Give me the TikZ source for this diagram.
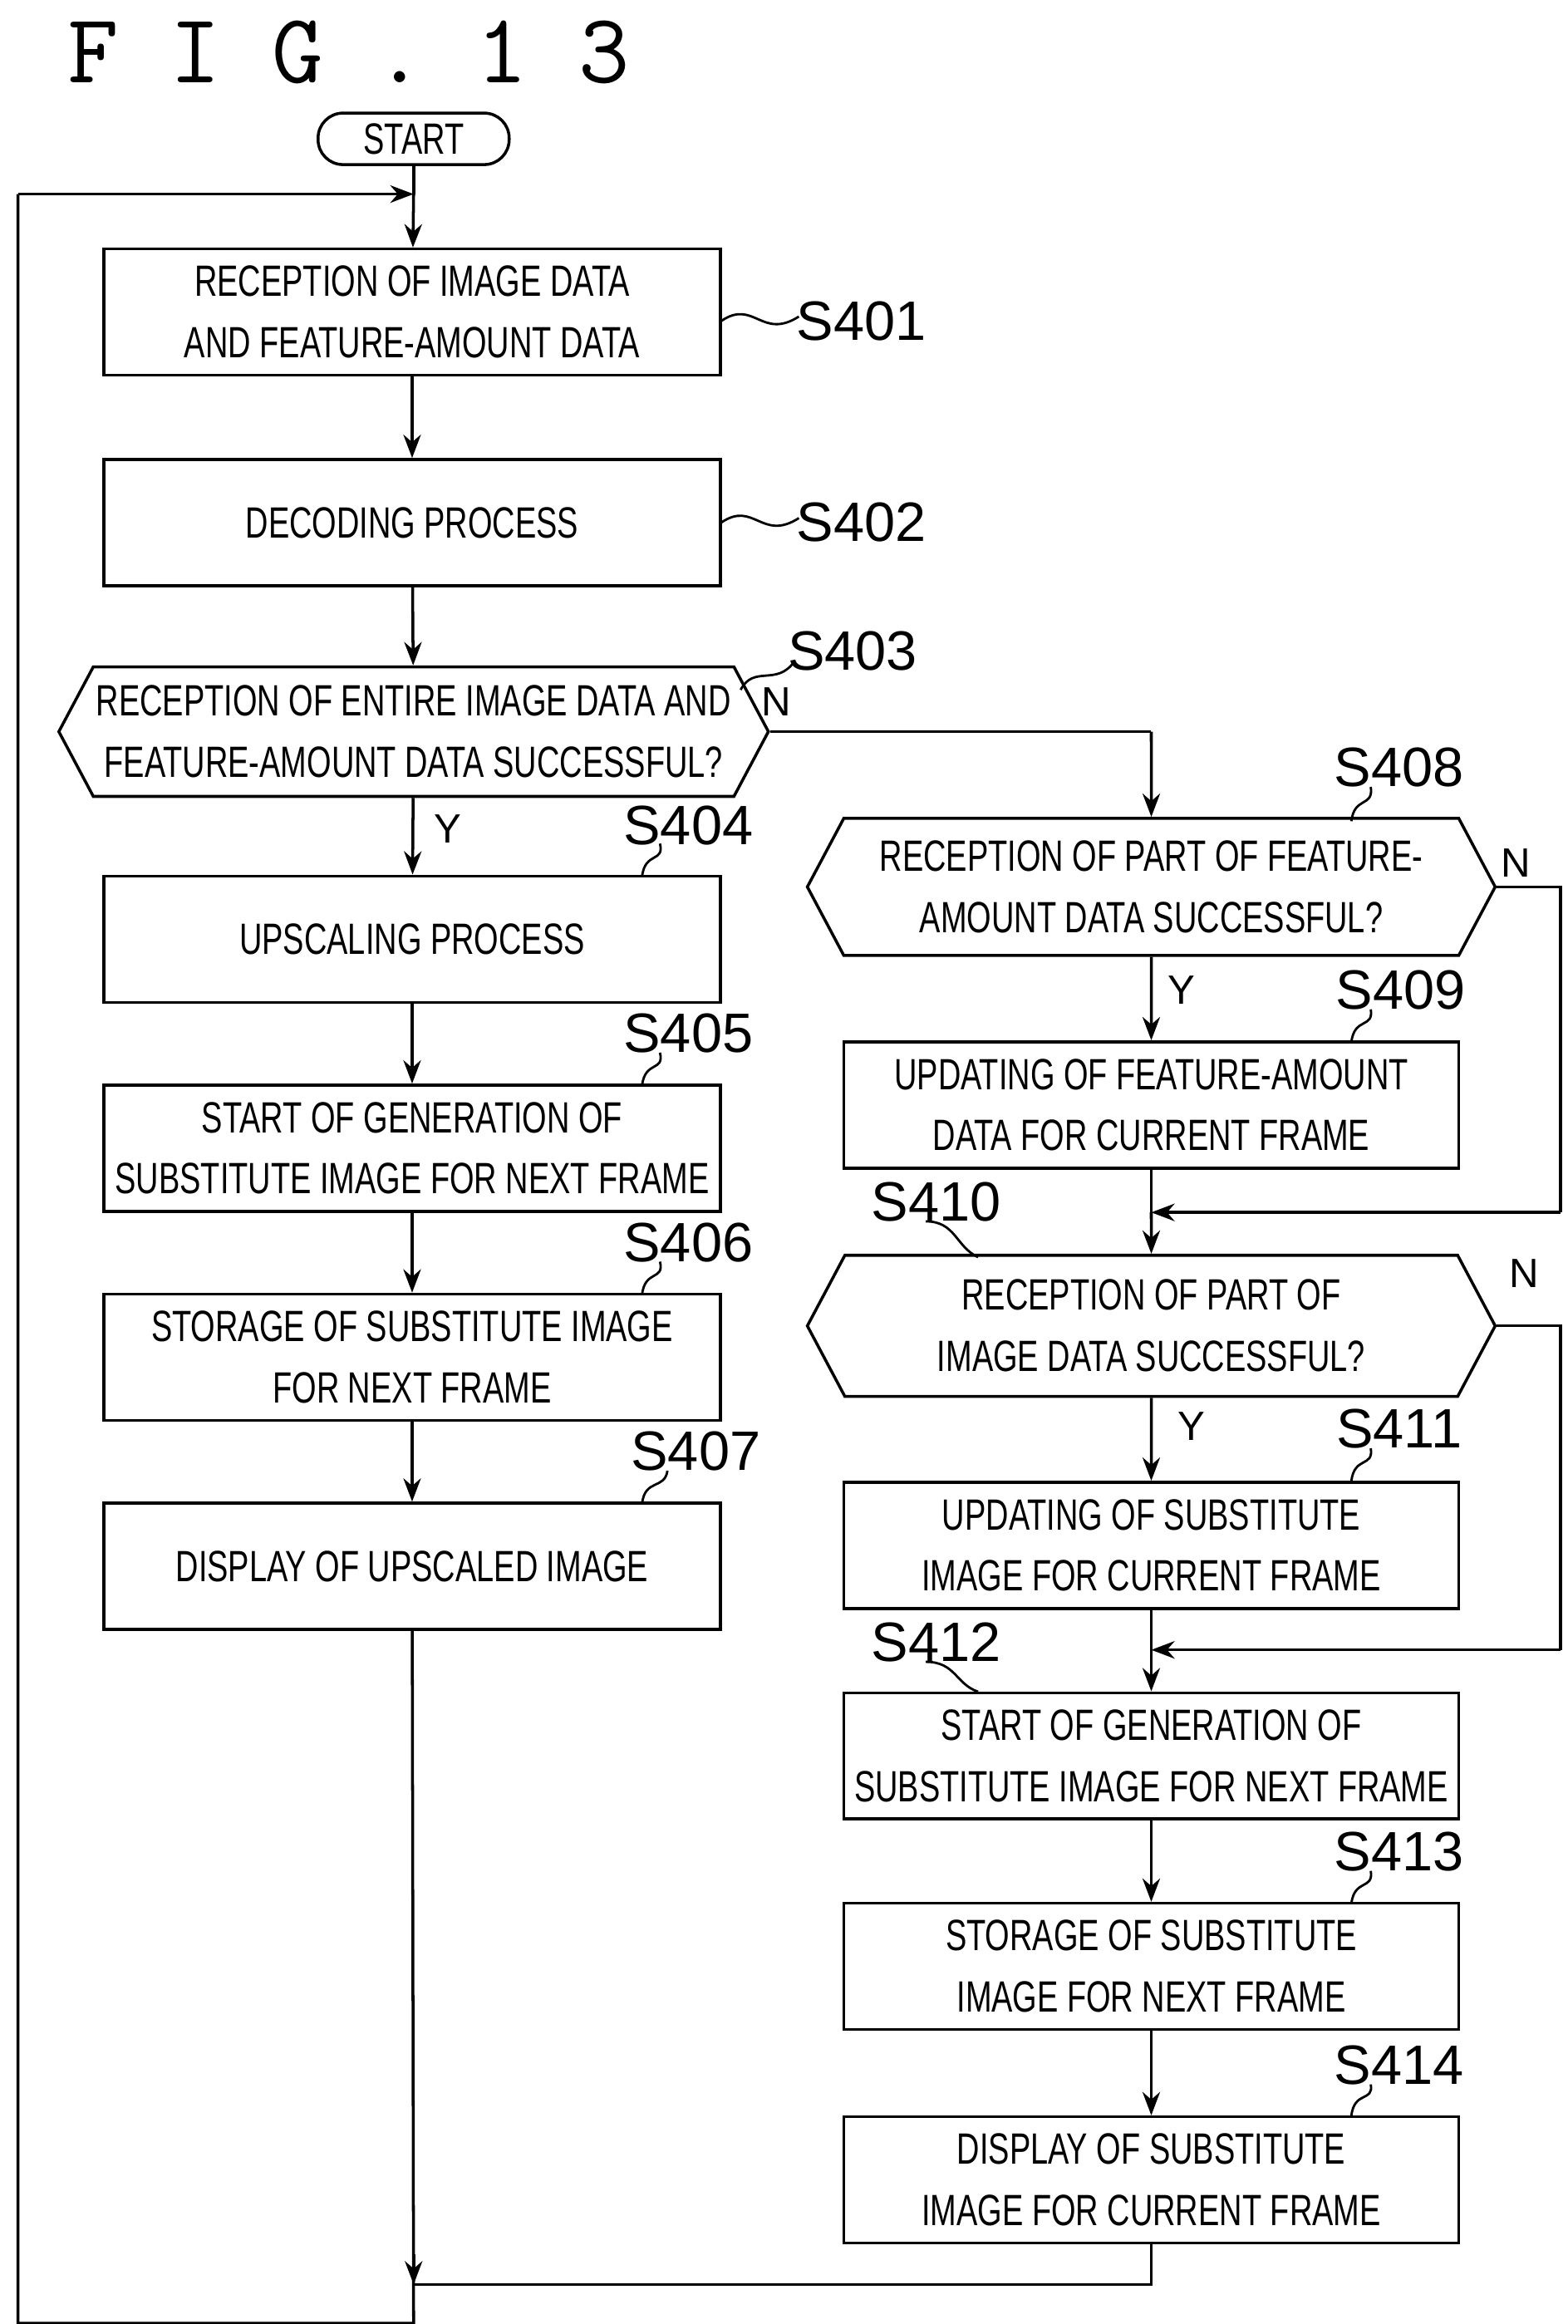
\documentclass[tikz,border=0pt]{standalone}
\usepackage{fontspec}
\setmainfont[FakeStretch=0.72]{Liberation Sans}
\newfontfamily\lblfont{Liberation Sans}
\usetikzlibrary{shapes.symbols,arrows.meta}
\begin{document}
\begin{tikzpicture}[x=0.01797cm,y=-0.01797cm,line width=1pt,
  box/.style={draw,rectangle,minimum width=7.42cm,minimum height=1.52cm,align=center,font=\fontsize{15}{21}\selectfont,inner sep=2pt},
  rbox/.style={box,minimum width=7.40cm},
  hex/.style={draw,signal,signal to=west and east,signal pointer angle=124,minimum width=8.28cm,minimum height=1.56cm,align=center,font=\fontsize{15}{21}\selectfont,inner sep=1pt},
  term/.style={draw,rounded corners=0.3cm,minimum width=2.3cm,minimum height=0.62cm,font=\fontsize{15}{18}\selectfont},
  lbl/.style={font=\lblfont\fontsize{19}{22}\selectfont},
  yn/.style={font=\lblfont\fontsize{14}{16}\selectfont},
  arr/.style={-{Stealth[length=8pt,width=6pt]}},
  sq/.style={line width=0.8pt}]
\useasboundingbox (0,0) rectangle (1050,1556.5);
\node[font=\ttfamily\fontsize{34}{36}\selectfont,anchor=west] (title) at (38,35) {F I G . 1 3};
\node[term] (start) at (277,93) {START};
\node[box] (s401) at (276,209) {RECEPTION OF IMAGE DATA\\AND FEATURE-AMOUNT DATA};
\node[box] (s402) at (276,350) {DECODING PROCESS};
\node[hex] (s403) at (277,490) {RECEPTION OF ENTIRE IMAGE DATA AND\\FEATURE-AMOUNT DATA SUCCESSFUL?};
\node[box] (s404) at (276,629) {UPSCALING PROCESS};
\node[box] (s405) at (276,769) {START OF GENERATION OF\\SUBSTITUTE IMAGE FOR NEXT FRAME};
\node[box] (s406) at (276,909) {STORAGE OF SUBSTITUTE IMAGE\\FOR NEXT FRAME};
\node[box] (s407) at (276,1049) {DISPLAY OF UPSCALED IMAGE};
\node[hex,minimum height=1.65cm] (s408) at (771,594) {RECEPTION OF PART OF FEATURE-\\AMOUNT DATA SUCCESSFUL?};
\node[rbox] (s409) at (771,740) {UPDATING OF FEATURE-AMOUNT\\DATA FOR CURRENT FRAME};
\node[hex,minimum height=1.70cm] (s410) at (771,888) {RECEPTION OF PART OF\\IMAGE DATA SUCCESSFUL?};
\node[rbox] (s411) at (771,1035) {UPDATING OF SUBSTITUTE\\IMAGE FOR CURRENT FRAME};
\node[rbox] (s412) at (771,1176) {START OF GENERATION OF\\SUBSTITUTE IMAGE FOR NEXT FRAME};
\node[rbox] (s413) at (771,1317) {STORAGE OF SUBSTITUTE\\IMAGE FOR NEXT FRAME};
\node[rbox] (s414) at (771,1460) {DISPLAY OF SUBSTITUTE\\IMAGE FOR CURRENT FRAME};
% coordinates
\coordinate (loopL) at (12,130);
\coordinate (loopT) at (277,130);
\coordinate (botL) at (12,1556);
\coordinate (botM) at (277,1556);
\coordinate (mergeR) at (771,1530);
\coordinate (mergeM) at (277,1530);
\coordinate (n403) at (771,490);
\coordinate (n408a) at (1045,594);
\coordinate (n408b) at (1045,812);
\coordinate (j410) at (771,812);
\coordinate (n410a) at (1045,888);
\coordinate (n410b) at (1045,1105);
\coordinate (j412) at (771,1105);
% left column
\draw (start) -- (loopT);
\draw[arr] (loopL) -- (loopT);
\draw[arr] (loopT) -- (s401);
\draw[arr] (s401) -- (s402);
\draw[arr] (s402) -- (s403);
\draw[arr] (s403) -- (s404);
\draw[arr] (s404) -- (s405);
\draw[arr] (s405) -- (s406);
\draw[arr] (s406) -- (s407);
\draw (s407) -- (botM) -- (botL) -- (loopL);
\draw (s414) -- (mergeR) -- (mergeM);
\draw[arr] (277,1510) -- (mergeM);
% right column
\draw (s403.east) -- (n403);
\draw[arr] (n403) -- (s408);
\draw[arr] (s408) -- (s409);
\draw (s408.east) -- (n408a) -- (n408b);
\draw[arr] (n408b) -- (j410);
\draw (s409) -- (j410);
\draw[arr] (j410) -- (s410);
\draw[arr] (s410) -- (s411);
\draw (s410.east) -- (n410a) -- (n410b);
\draw[arr] (n410b) -- (j412);
\draw (s411) -- (j412);
\draw[arr] (j412) -- (s412);
\draw[arr] (s412) -- (s413);
\draw[arr] (s413) -- (s414);
% Y/N
\node[yn] (y403) at (300,555) {Y};
\node[yn] (n403l) at (520,470) {N};
\node[yn] (y408) at (791,663) {Y};
\node[yn] (n408l) at (1015,578) {N};
\node[yn] (y410) at (798,955) {Y};
\node[yn] (n410l) at (1021,853) {N};
% step labels
\node[lbl] (l401) at (577,215) {S401};
\draw[sq] (483,215) .. controls (505,200) and (510,228) .. (535,212);
\node[lbl] (l402) at (577,350) {S402};
\draw[sq] (483,350) .. controls (505,335) and (510,363) .. (535,347);
\node[lbl] (l403) at (571,436) {S403};
\draw[sq] (496,462) .. controls (505,445) and (520,460) .. (532,443);
\node[lbl] (l404) at (461,553) {S404};
\draw[sq] (430,587) .. controls (432,570) and (445,578) .. (442,565);
\node[lbl] (l405) at (461,692) {S405};
\draw[sq] (430,727) .. controls (432,710) and (445,718) .. (442,705);
\node[lbl] (l406) at (461,832) {S406};
\draw[sq] (430,867) .. controls (432,850) and (445,858) .. (442,845);
\node[lbl] (l407) at (466,972) {S407};
\draw[sq] (430,1007) .. controls (432,990) and (445,998) .. (447,985);
\node[lbl] (l408) at (937,514) {S408};
\draw[sq] (905,550) .. controls (907,533) and (920,541) .. (918,527);
\node[lbl] (l409) at (938,663) {S409};
\draw[sq] (905,698) .. controls (907,681) and (920,689) .. (918,676);
\node[lbl] (l410) at (627,805) {S410};
\draw[sq] (620,818) .. controls (640,818) and (640,835) .. (655,842);
\node[lbl] (l411) at (937,957) {S411};
\draw[sq] (905,992) .. controls (907,975) and (920,983) .. (918,970);
\node[lbl] (l412) at (627,1100) {S412};
\draw[sq] (620,1113) .. controls (640,1113) and (640,1128) .. (655,1133);
\node[lbl] (l413) at (937,1240) {S413};
\draw[sq] (905,1275) .. controls (907,1258) and (920,1266) .. (918,1253);
\node[lbl] (l414) at (937,1383) {S414};
\draw[sq] (905,1417) .. controls (907,1400) and (920,1408) .. (918,1396);
\end{tikzpicture}
\end{document}
